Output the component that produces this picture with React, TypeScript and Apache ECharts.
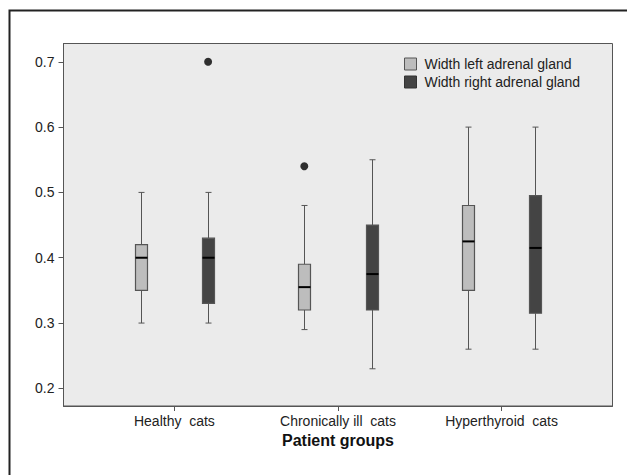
import React, { useEffect, useRef } from "react";
import * as echarts from "echarts";

const categories = ["Healthy  cats", "Chronically ill  cats", "Hyperthyroid  cats"];
const seriesNames = ["Width left adrenal gland", "Width right adrenal gland"];
// [min, q1, median, q3, max]
const leftBoxes = [
  [0.3, 0.35, 0.4, 0.42, 0.5],
  [0.29, 0.32, 0.355, 0.39, 0.48],
  [0.26, 0.35, 0.425, 0.48, 0.6],
];
const rightBoxes = [
  [0.3, 0.33, 0.4, 0.43, 0.5],
  [0.23, 0.32, 0.375, 0.45, 0.55],
  [0.26, 0.315, 0.415, 0.495, 0.6],
];
// [categoryIndex, value]
const leftOutliers = [[1, 0.54]];
const rightOutliers = [[0, 0.7]];
const yTicks = [0.2, 0.3, 0.4, 0.5, 0.6, 0.7];

const OFFSET = 0.206;
const FONT = "Liberation Sans, Arial, sans-serif";
const LIGHT = "#bdbdbd";
const DARK = "#444444";

function makeBoxSeries(name: string, boxes: number[][], dx: number, fill: string) {
  return {
    type: "custom",
    name,
    itemStyle: { color: fill, borderColor: "#555" },
    data: boxes.map((b, i) => [i + dx, ...b]),
    encode: { x: 0, y: [1, 2, 3, 4, 5] },
    renderItem: (params: any, api: any) => {
      const x = api.value(0);
      const pMin = api.coord([x, api.value(1)]);
      const pQ1 = api.coord([x, api.value(2)]);
      const pMed = api.coord([x, api.value(3)]);
      const pQ3 = api.coord([x, api.value(4)]);
      const pMax = api.coord([x, api.value(5)]);
      const cx = Math.round(pMed[0]) + 0.5;
      const bw = 12;
      const cw = 3;
      const lineStyle = { stroke: "#555", lineWidth: 1 };
      return {
        type: "group",
        children: [
          { type: "line", shape: { x1: cx, y1: pMax[1], x2: cx, y2: pQ3[1] }, style: lineStyle },
          { type: "line", shape: { x1: cx, y1: pQ1[1], x2: cx, y2: pMin[1] }, style: lineStyle },
          { type: "line", shape: { x1: cx - cw, y1: pMax[1], x2: cx + cw, y2: pMax[1] }, style: lineStyle },
          { type: "line", shape: { x1: cx - cw, y1: pMin[1], x2: cx + cw, y2: pMin[1] }, style: lineStyle },
          {
            type: "rect",
            shape: { x: cx - bw / 2, y: pQ3[1], width: bw, height: pQ1[1] - pQ3[1] },
            style: { fill, stroke: "#555", lineWidth: 1.2 },
          },
          {
            type: "line",
            shape: { x1: cx - bw / 2, y1: pMed[1], x2: cx + bw / 2, y2: pMed[1] },
            style: { stroke: "#000", lineWidth: 2 },
          },
        ],
      };
    },
  };
}

export default function App() {
  const ref = useRef<HTMLDivElement>(null);
  useEffect(() => {
    document.body.style.margin = "0";
    const chart = echarts.init(ref.current!, undefined, { renderer: "svg" });
    chart.setOption({
      animation: false,
      backgroundColor: "#ffffff",
      grid: {
        left: 63.5,
        top: 43.5,
        right: 14.5,
        bottom: 69,
        show: true,
        backgroundColor: "#ebebeb",
        borderColor: "#555",
        borderWidth: 1,
      },
      graphic: [
        {
          type: "rect",
          shape: { x: 9.5, y: 10.5, width: 700, height: 600 },
          style: { fill: "none", stroke: "#222", lineWidth: 2 },
          silent: true,
        },
      ],
      legend: {
        orient: "vertical",
        left: 399,
        top: 52,
        itemWidth: 12,
        itemHeight: 12,
        itemGap: 4,
        icon: "rect",
        textStyle: { fontFamily: FONT, fontSize: 14, color: "#222", padding: [0, 0, 0, 3] },
        data: [
          { name: seriesNames[0], itemStyle: { color: LIGHT, borderColor: "#555", borderWidth: 1 } },
          { name: seriesNames[1], itemStyle: { color: DARK, borderColor: "#333", borderWidth: 1 } },
        ],
      },
      xAxis: {
        type: "value",
        min: -0.678,
        max: 2.678,
        splitLine: { show: false },
        axisLine: { show: true, onZero: false, lineStyle: { color: "#555" } },
        axisTick: { show: true, customValues: [0, 1, 2], length: 5, lineStyle: { color: "#555" } },
        axisLabel: {
          customValues: [0, 1, 2],
          formatter: (v: number) => categories[Math.round(v)] ?? "",
          fontFamily: FONT,
          fontSize: 14,
          color: "#222",
          margin: 8,
        },
        name: "Patient groups",
        nameLocation: "middle",
        nameGap: 26,
        nameTextStyle: { fontFamily: FONT, fontSize: 16, fontWeight: "bold", color: "#111" },
      },
      yAxis: {
        type: "value",
        min: 0.173,
        max: 0.728,
        splitLine: { show: false },
        axisLine: { show: true, onZero: false, lineStyle: { color: "#555" } },
        axisTick: { show: true, customValues: yTicks, length: 5, lineStyle: { color: "#555" } },
        axisLabel: {
          customValues: yTicks,
          formatter: (v: number) => v.toFixed(1),
          fontFamily: FONT,
          fontSize: 14,
          color: "#222",
          margin: 9,
        },
      },
      series: [
        makeBoxSeries(seriesNames[0], leftBoxes, -OFFSET, LIGHT),
        makeBoxSeries(seriesNames[1], rightBoxes, OFFSET, DARK),
        {
          type: "scatter",
          name: "outliersLeft",
          symbolSize: 8,
          itemStyle: { color: "#000" },
          data: leftOutliers.map(([i, v]) => [i - OFFSET, v]),
        },
        {
          type: "scatter",
          name: "outliersRight",
          symbolSize: 8,
          itemStyle: { color: "#000" },
          data: rightOutliers.map(([i, v]) => [i + OFFSET, v]),
        },
      ],
    });
    return () => chart.dispose();
  }, []);
  return <div ref={ref} style={{ width: 627, height: 475 }} />;
}
